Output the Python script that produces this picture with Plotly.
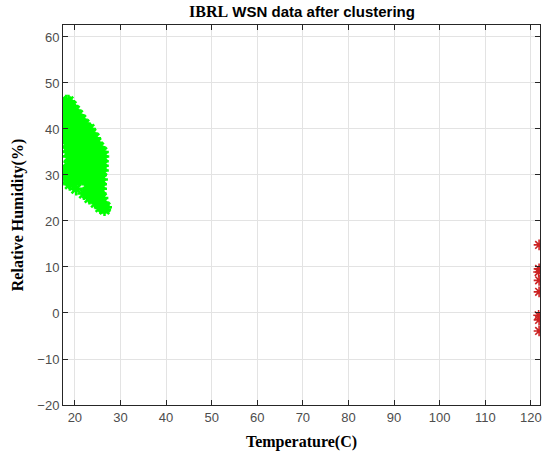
import plotly.graph_objects as go

# Green cluster (Temperature, Humidity) rows: humidity -> list of temperatures
green_rows = {
    46.0: [18.1, 18.6],
    45.0: [18.0, 18.7, 19.3],
    44.0: [17.9, 18.6, 19.3, 20.0],
    43.0: [17.9, 18.6, 19.3, 20.0, 20.7],
    42.0: [17.9, 18.6, 19.3, 20.0, 20.7, 21.4],
    41.0: [17.9, 18.6, 19.3, 20.0, 20.7, 21.4, 22.1],
    40.0: [17.9, 18.6, 19.3, 20.0, 20.7, 21.4, 22.1, 22.8, 23.2],
    39.0: [18.0, 18.7, 19.4, 20.1, 20.8, 21.5, 22.2, 22.9, 23.6],
    38.0: [18.2, 18.9, 19.6, 20.3, 21.0, 21.7, 22.4, 23.1, 23.8, 24.3],
    37.0: [18.4, 19.1, 19.8, 20.5, 21.2, 21.9, 22.6, 23.3, 24.0, 24.7],
    36.0: [18.5, 19.2, 19.9, 20.6, 21.3, 22.0, 22.7, 23.4, 24.1, 24.8, 25.3],
    35.0: [18.6, 19.3, 20.0, 20.7, 21.4, 22.1, 22.8, 23.5, 24.2, 24.9, 25.6, 26.0],
    34.0: [18.8, 19.5, 20.2, 20.9, 21.6, 22.3, 23.0, 23.7, 24.4, 25.1, 25.8, 26.1],
    33.0: [19.0, 19.7, 20.4, 21.1, 21.8, 22.5, 23.2, 23.9, 24.6, 25.3, 26.0],
    32.0: [18.6, 19.3, 20.0, 20.7, 21.4, 22.1, 22.8, 23.5, 24.2, 24.9, 25.6, 26.0],
    31.0: [17.9, 18.6, 19.3, 20.0, 20.7, 21.4, 22.1, 22.8, 23.5, 24.2, 24.9, 25.6, 26.0],
    30.0: [17.9, 18.6, 19.3, 20.0, 20.7, 21.4, 22.1, 22.8, 23.5, 24.2, 24.9, 25.6],
    29.0: [18.2, 18.9, 19.6, 20.3, 21.0, 22.4, 23.1, 23.8, 24.5, 25.2, 25.8],
    28.0: [18.9, 19.6, 22.9, 23.6, 24.3, 25.0, 25.6],
    27.0: [20.3, 23.1, 23.8, 24.5, 25.2, 25.6],
    26.0: [22.0, 22.7, 23.4, 24.1, 24.8, 25.5],
    25.0: [23.2, 23.9, 24.6, 25.3, 25.9],
    24.0: [24.6, 25.3, 26.0],
    23.0: [25.6, 26.2, 26.7],
    22.5: [26.5],
}

# Red cluster
red_temp = [121.8, 121.8, 121.7, 121.8, 121.8, 121.7, 121.8, 121.8]
red_hum = [14.8, 9.6, 8.9, 7.1, 4.6, -0.5, -1.5, -3.9]

# Axis ticks
x_ticks = [20, 30, 40, 50, 60, 70, 80, 90, 100, 110, 120]
y_ticks = [-20, -10, 0, 10, 20, 30, 40, 50, 60]

green_temp = [t for h, ts in green_rows.items() for t in ts]
green_hum = [h for h, ts in green_rows.items() for t in ts]

fig = go.Figure()
fig.add_trace(go.Scatter(
    x=green_temp, y=green_hum, mode="markers",
    marker=dict(symbol="asterisk-open", size=11, color="#00ff00",
                line=dict(color="#00ff00", width=2.5)),
    showlegend=False,
))
fig.add_trace(go.Scatter(
    x=red_temp, y=red_hum, mode="markers",
    marker=dict(symbol="asterisk-open", size=9, color="#cc2222",
                line=dict(color="#cc2222", width=1.6)),
    showlegend=False,
))

axis_common = dict(
    showgrid=True, gridcolor="#e3e3e3", gridwidth=1,
    showline=True, linecolor="#262626", linewidth=1,
    mirror="ticks", ticks="inside", ticklen=5, tickcolor="#262626",
    tickfont=dict(family="Liberation Sans, Arial", size=13, color="#4d4d4d"),
    zeroline=False,
)

fig.update_layout(
    width=545, height=457,
    margin=dict(l=63, r=3, t=25, b=52),
    paper_bgcolor="white", plot_bgcolor="white",
    title=dict(
        text="<span style=\"font-family:'Liberation Serif';font-size:16px\">IBRL</span> WSN data after clustering",
        x=302 / 545, xanchor="center", y=0.974, yanchor="middle",
        font=dict(family="Liberation Sans, Arial", size=15, color="black", weight="bold"),
    ),
    xaxis=dict(
        range=[17.4, 122], tickvals=x_ticks,
        title=dict(text="Temperature(C)", standoff=12,
                   font=dict(family="Liberation Serif, Times New Roman", size=16, color="black", weight="bold")),
        **axis_common,
    ),
    yaxis=dict(
        range=[-20, 62.6], tickvals=y_ticks,
        title=dict(text="Relative Humidity(%)", standoff=9,
                   font=dict(family="Liberation Serif, Times New Roman", size=16, color="black", weight="bold")),
        **axis_common,
    ),
)

fig.write_html("out.html")
